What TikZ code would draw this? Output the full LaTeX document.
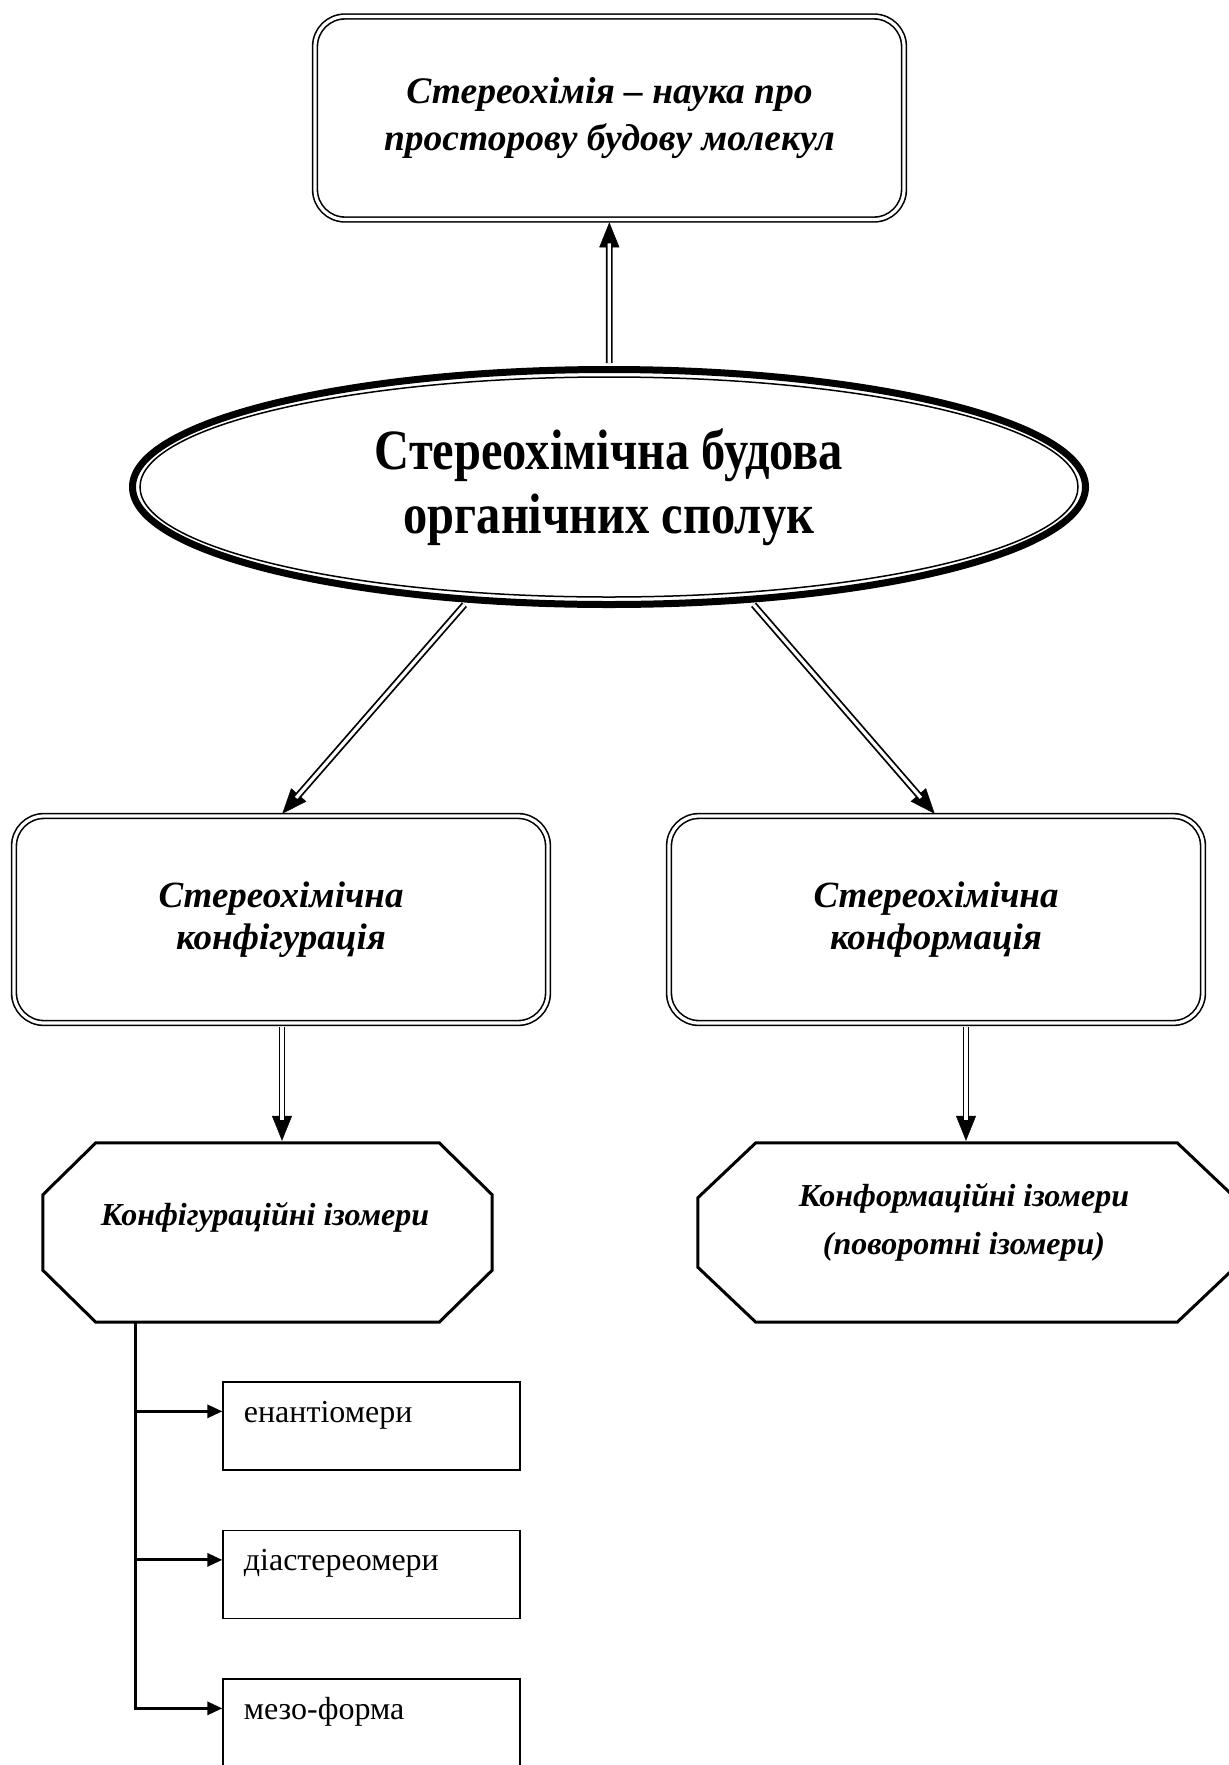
\documentclass[tikz,border=0pt]{standalone}
\usepackage{fontspec}
\setmainfont{Liberation Serif}
\newfontfamily\narrowserif{Liberation Serif}[FakeStretch=0.85]
\usetikzlibrary{arrows.meta,shapes.geometric,calc}

\newcommand{\topfont}{\fontsize{37.5}{47}\selectfont\bfseries\itshape}
\newcommand{\ellfont}{\narrowserif\fontsize{57}{64}\selectfont\bfseries}
\newcommand{\boxfont}{\fontsize{37}{42}\selectfont\bfseries\itshape}
\newcommand{\octfont}{\fontsize{32}{48}\selectfont\bfseries\itshape}
\newcommand{\smallfont}{\fontsize{32}{36}\selectfont}

\begin{document}
\begin{tikzpicture}[x=1pt,y=-1pt,
  dblbox/.style={draw, double, double distance=3.2pt, line width=1.6pt,
    rounded corners=30pt, align=center, inner sep=0pt},
  frame/.style={draw=none, inner sep=0pt},
  octline/.style={line width=3pt, line join=miter},
  smallbox/.style={draw, line width=1.3pt, inner sep=0pt,
    minimum width=297pt, minimum height=88pt},
  headtip/.style={draw=white, line width=0.4pt, shorten <=3pt, shorten >=2pt,
    -{Triangle[color=black, length=25pt, width=20pt]}},
  dblshaft/.style={draw, double, double distance=3.2pt, line width=1.8pt,
    shorten <=3pt, shorten >=23pt},
  branch/.style={line width=3pt},
  brarrow/.style={line width=3pt, -{Triangle[length=15pt, width=13pt]}},
]
\useasboundingbox (0,0) rectangle (1229,1765);

% top definition box
\node[dblbox, minimum width=589pt, minimum height=203pt, font=\topfont]
  (top) at (609.5,118) {Стереохімія – наука про\\просторову будову молекул};

% central ellipse: thick outer line and a thin inner one
\node[ellipse, draw, line width=7pt, minimum width=953pt, minimum height=235pt,
  inner sep=0pt, align=center, font=\ellfont]
  (ell) at (609,487) {Стереохімічна будова\\органічних сполук};
\draw[line width=1.5pt] (ell.center) ellipse [x radius=469pt, y radius=110pt];

% second level boxes
\node[dblbox, minimum width=534pt, minimum height=207pt, font=\boxfont]
  (lbox) at (281,919.5) {Стереохімічна\\конфігурація};
\node[dblbox, minimum width=534pt, minimum height=207pt, font=\boxfont]
  (rbox) at (936,919.5) {Стереохімічна\\конформація};

% octagons
\node[frame, minimum width=449pt, minimum height=179pt] (loct) at (267.5,1232.5) {};
\draw[octline] ($(loct.north west)+(53,0)$) -- ($(loct.north east)+(-53,0)$)
  -- ($(loct.north east)+(0,52)$) -- ($(loct.south east)+(0,-52)$)
  -- ($(loct.south east)+(-53,0)$) -- ($(loct.south west)+(53,0)$)
  -- ($(loct.south west)+(0,-52)$) -- ($(loct.north west)+(0,52)$) -- cycle;
\node[font=\octfont, anchor=base] (ltext) at (265,1225) {Конфігураційні ізомери};

\node[frame, minimum width=537pt, minimum height=179pt] (roct) at (966.5,1232.5) {};
\draw[octline] ($(roct.north west)+(58,0)$) -- ($(roct.north east)+(-58,0)$)
  -- ($(roct.north east)+(0,55)$) -- ($(roct.south east)+(0,-55)$)
  -- ($(roct.south east)+(-58,0)$) -- ($(roct.south west)+(58,0)$)
  -- ($(roct.south west)+(0,-55)$) -- ($(roct.north west)+(0,55)$) -- cycle;
\node[font=\octfont, align=center] (rtext) at (964,1222)
  {Конформаційні ізомери\\(поворотні ізомери)};

% small boxes
\node[smallbox] (enan) at (371.5,1426) {};
\node[smallbox] (dias) at (371.5,1574.5) {};
\node[smallbox] (meso) at (371.5,1723) {};
\node[font=\smallfont, anchor=base west] (enant) at ($(enan.north west)+(18,41)$) {енантіомери};
\node[font=\smallfont, anchor=base west] (diast) at ($(dias.north west)+(18,41)$) {діастереомери};
\node[font=\smallfont, anchor=base west] (mesot) at ($(meso.north west)+(18,41)$) {мезо-форма};

% double arrows
\draw[headtip] (ell) -- (top);
\draw[dblshaft] (ell) -- (top);
\draw[headtip] (ell.219) -- (lbox.north);
\draw[dblshaft] (ell.219) -- (lbox.north);
\draw[headtip] (ell.321) -- (rbox.north);
\draw[dblshaft] (ell.321) -- (rbox.north);

\coordinate (ldown) at ($(lbox.south)+(1,0)$);
\coordinate (rdown) at ($(rbox.south)+(30,0)$);
\draw[headtip] (ldown) -- (ldown |- loct.north);
\draw[dblshaft] (ldown) -- (ldown |- loct.north);
\draw[headtip] (rdown) -- (rdown |- roct.north);
\draw[dblshaft] (rdown) -- (rdown |- roct.north);

% branching connector to the isomer types
\coordinate (trunk) at (135,1322);
\coordinate (e1) at ($(enan.north west)+(0,30)$);
\coordinate (e2) at ($(dias.north west)+(0,30)$);
\coordinate (e3) at ($(meso.north west)+(0,30)$);
\draw[branch] (trunk) -- (trunk |- e3);
\draw[brarrow] (trunk |- e1) -- (e1);
\draw[brarrow] (trunk |- e2) -- (e2);
\draw[brarrow] ([xshift=-1.5pt]trunk |- e3) -- (e3);
\end{tikzpicture}
\end{document}
